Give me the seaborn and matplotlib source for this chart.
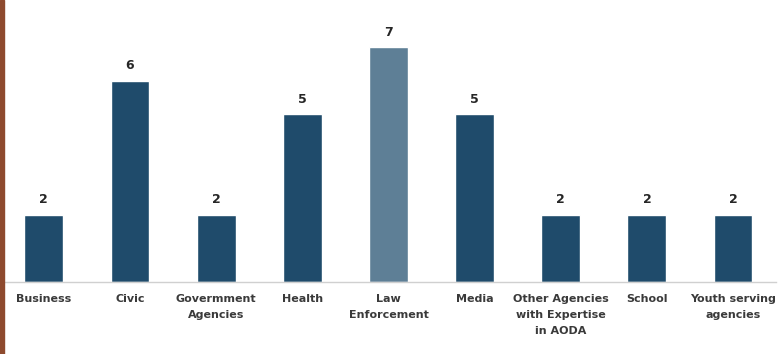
import matplotlib
matplotlib.use("Agg")
import matplotlib.pyplot as plt
import seaborn as sns
import pandas as pd

categories = ["Business", "Civic", "Govermment\nAgencies", "Health", "Law\nEnforcement",
              "Media", "Other Agencies\nwith Expertise\nin AODA", "School", "Youth serving\nagencies"]
values = [2, 6, 2, 5, 7, 5, 2, 2, 2]
highlight = "Law\nEnforcement"

sns.set_style("white")
plt.rcParams['font.family'] = ['Liberation Sans Narrow', 'DejaVu Sans']

df = pd.DataFrame({"sector": categories, "count": values})
palette = {c: ("#5E7F96" if c == highlight else "#1F4B6B") for c in categories}

fig = plt.figure(figsize=(7.8, 3.54), dpi=100)
ax = fig.add_axes([0.001, 1 - 282 / 354, 0.994, 282 / 354])
sns.barplot(data=df, x="sector", y="count", hue="sector", palette=palette,
            width=0.45, legend=False, ax=ax, saturation=1)

for i, v in enumerate(values):
    ax.text(i, v + 0.25, str(v), ha="center", va="bottom", fontsize=9,
            fontweight="bold", color="#262626")

ax.set_ylim(0, 8.4)
ax.set_xlim(-0.5, len(categories) - 0.5)
ax.set_xlabel("")
ax.set_ylabel("")
ax.set_yticks([])
ax.tick_params(axis="x", length=0, pad=9)
for lbl in ax.get_xticklabels():
    lbl.set_fontsize(8)
    lbl.set_fontweight("bold")
    lbl.set_color("#3a3a3a")
    lbl.set_linespacing(1.75)
for s in ["top", "right", "left"]:
    ax.spines[s].set_visible(False)
ax.spines["bottom"].set_color("#d0d0d0")
ax.spines["bottom"].set_linewidth(1)

# brown strip at the left edge
fig.patches.append(plt.Rectangle((0, 0), 4 / 780, 1, transform=fig.transFigure,
                                 color="#8E4A2E", zorder=5))

fig.savefig("out.png", dpi=100)
